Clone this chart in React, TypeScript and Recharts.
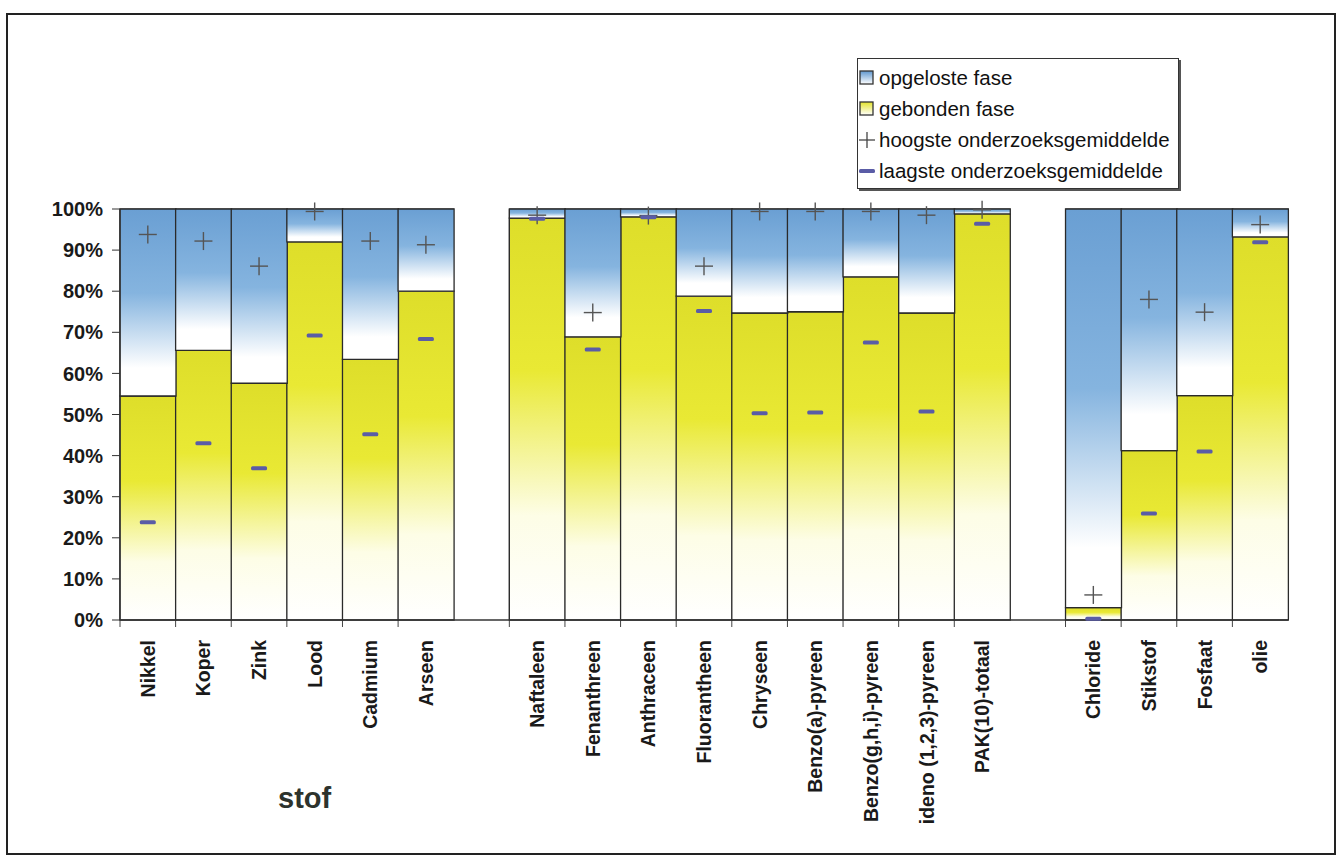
import type { FC } from 'react'
import { Bar, ComposedChart, Line, XAxis, YAxis } from 'recharts'

const FONT = 'Arial, "Liberation Sans", sans-serif'

// categories; the two blank names are the empty slots between the groups
const categories = [
  'Nikkel', 'Koper', 'Zink', 'Lood', 'Cadmium', 'Arseen', ' ',
  'Naftaleen', 'Fenanthreen', 'Anthraceen', 'Fluorantheen', 'Chryseen', 'Benzo(a)-pyreen',
  'Benzo(g,h,i)-pyreen', 'ideno (1,2,3)-pyreen', 'PAK(10)-totaal', '  ',
  'Chloride', 'Stikstof', 'Fosfaat', 'olie',
]
const gebonden = [54.5, 65.6, 57.6, 92.0, 63.4, 80.0, null, 97.8, 68.9, 98.1, 78.8, 74.7, 75.0, 83.5, 74.7, 98.8, null, 3.0, 41.2, 54.6, 93.2]
const opgeloste = [45.5, 34.4, 42.4, 8.0, 36.6, 20.0, null, 2.2, 31.1, 1.9, 21.2, 25.3, 25.0, 16.5, 25.3, 1.2, null, 97.0, 58.8, 45.4, 6.8]
const hoogste = [93.8, 92.2, 86.1, 99.4, 92.2, 91.3, null, 98.5, 74.8, 98.4, 86.1, 99.4, 99.4, 99.4, 98.5, 99.8, null, 6.1, 78.0, 74.9, 96.2]
const laagste = [23.8, 43.0, 36.9, 69.2, 45.2, 68.4, null, 97.6, 65.8, 98.0, 75.2, 50.3, 50.5, 67.5, 50.7, 96.4, null, 0.3, 25.9, 41.0, 91.9]
const yTicks = [0, 10, 20, 30, 40, 50, 60, 70, 80, 90, 100]
const legendNames = ['opgeloste fase', 'gebonden fase', 'hoogste onderzoeksgemiddelde', 'laagste onderzoeksgemiddelde']
const axisTitle = 'stof'

const data = categories.map((name, i) => ({
  name,
  gebonden: gebonden[i],
  opgeloste: opgeloste[i],
  hoogste: hoogste[i],
  laagste: laagste[i],
}))

// bar background: category boundary lines, top edge and the small ticks under the axis
const BoundaryShape: FC<any> = ({ x, y, width, height, index }) => {
  if (x == null || width == null) return null
  const bottom = y + height
  return (
    <g stroke="#444" strokeWidth={1} fill="none">
      <line x1={x} y1={y} x2={x + width} y2={y} />
      <line x1={x} y1={y} x2={x} y2={bottom + 7} />
      {index === categories.length - 1 && <line x1={x + width} y1={y} x2={x + width} y2={bottom + 7} />}
    </g>
  )
}

const PlusDot: FC<any> = ({ cx, cy }) => {
  if (cx == null || cy == null || Number.isNaN(cy)) return null
  return (
    <g stroke="#555" strokeWidth={1.4}>
      <line x1={cx - 9} y1={cy} x2={cx + 9} y2={cy} />
      <line x1={cx} y1={cy - 9} x2={cx} y2={cy + 9} />
    </g>
  )
}

const DashDot: FC<any> = ({ cx, cy }) => {
  if (cx == null || cy == null || Number.isNaN(cy)) return null
  return <rect x={cx - 8} y={cy - 2} width={16} height={4} rx={1.5} fill="#5a5ca6" />
}

const RotatedTick: FC<any> = ({ x, y, payload }) => (
  <g transform={`translate(${x},${y})`}>
    <text
      transform="rotate(-90)"
      x={-12}
      y={0}
      dy="0.36em"
      textAnchor="end"
      fontFamily={FONT}
      fontWeight="bold"
      fontSize={19.5}
      fill="#1a1a1a">
      {payload.value.trim()}
    </text>
  </g>
)

const LegendBox: FC = () => {
  const icon = (i: number) => {
    if (i === 0) return <rect x={1} y={2} width={13} height={13} fill="url(#legBlue)" stroke="#333" strokeWidth={1.3} />
    if (i === 1) return <rect x={1} y={2} width={13} height={13} fill="url(#legYellow)" stroke="#333" strokeWidth={1.3} />
    if (i === 2)
      return (
        <g stroke="#444" strokeWidth={1.3}>
          <line x1={0} y1={9} x2={16} y2={9} />
          <line x1={8} y1={1} x2={8} y2={17} />
        </g>
      )
    return <rect x={0} y={7} width={16} height={4} rx={1.5} fill="#5a5ca6" />
  }
  return (
    <div
      style={{
        position: 'absolute',
        left: 857,
        top: 58,
        width: 322,
        height: 131,
        border: '1.5px solid #333',
        boxShadow: '2px 2px 0 #555',
        background: '#fff',
        fontFamily: FONT,
        fontSize: 20.5,
        color: '#111',
        paddingTop: 3,
        boxSizing: 'border-box',
      }}>
      <svg width={0} height={0} style={{ position: 'absolute' }}>
        <defs>
          <linearGradient id="legBlue" x1="0" y1="0" x2="0" y2="1">
            <stop offset="0" stopColor="#5f97cf" />
            <stop offset="1" stopColor="#ffffff" />
          </linearGradient>
          <linearGradient id="legYellow" x1="0" y1="0" x2="0" y2="1">
            <stop offset="0" stopColor="#e4e42c" />
            <stop offset="1" stopColor="#ffffff" />
          </linearGradient>
        </defs>
      </svg>
      {legendNames.map((n, i) => (
        <div key={n} style={{ display: 'flex', alignItems: 'center', height: 31, paddingLeft: 1, whiteSpace: 'nowrap' }}>
          <svg width={18} height={18} style={{ marginRight: 2 }}>
            {icon(i)}
          </svg>
          <span>{n}</span>
        </div>
      ))}
    </div>
  )
}

const App: FC = () => (
  <div style={{ position: 'absolute', left: 0, top: 0, width: 1344, height: 861, background: '#fff', overflow: 'hidden' }}>
    <div
      style={{
        position: 'absolute',
        left: 6,
        top: 13,
        width: 1330,
        height: 842,
        border: '2px solid #222',
        boxSizing: 'border-box',
      }}
    />
    <div style={{ position: 'absolute', left: 0, top: 0 }}>
      <ComposedChart
        width={1344}
        height={861}
        data={data}
        barCategoryGap={0}
        barGap={0}
        margin={{ top: 209, right: 56, bottom: 100, left: 20 }}>
        <defs>
          <linearGradient id="blueGrad" x1="0" y1="0" x2="0" y2="1">
            <stop offset="0" stopColor="#6a9fd3" />
            <stop offset="0.45" stopColor="#85b4df" />
            <stop offset="0.85" stopColor="#ffffff" />
            <stop offset="1" stopColor="#ffffff" />
          </linearGradient>
          <linearGradient id="yellowGrad" x1="0" y1="0" x2="0" y2="1">
            <stop offset="0" stopColor="#dede2a" />
            <stop offset="0.38" stopColor="#e9e934" />
            <stop offset="0.74" stopColor="#fdfde6" />
            <stop offset="1" stopColor="#ffffff" />
          </linearGradient>
        </defs>
        <XAxis
          dataKey="name"
          interval={0}
          height={141}
          tickLine={false}
          axisLine={{ stroke: '#333', strokeWidth: 1.3 }}
          tick={<RotatedTick />}
        />
        <YAxis
          width={100}
          domain={[0, 100]}
          ticks={yTicks}
          interval={0}
          tickFormatter={(v: number) => `${v}%`}
          tickSize={8}
          tickMargin={9}
          axisLine={{ stroke: '#333', strokeWidth: 1.3 }}
          tickLine={{ stroke: '#333' }}
          tick={{ fontFamily: FONT, fontWeight: 'bold', fontSize: 20, fill: '#1a1a1a' }}
        />
        <Bar
          dataKey="gebonden"
          stackId="a"
          fill="url(#yellowGrad)"
          stroke="#2a2a2a"
          strokeWidth={1.3}
          background={<BoundaryShape />}
          isAnimationActive={false}
        />
        <Bar dataKey="opgeloste" stackId="a" fill="url(#blueGrad)" stroke="#2a2a2a" strokeWidth={1.3} isAnimationActive={false} />
        <Line dataKey="hoogste" stroke="none" dot={<PlusDot />} activeDot={false} isAnimationActive={false} />
        <Line dataKey="laagste" stroke="none" dot={<DashDot />} activeDot={false} isAnimationActive={false} />
      </ComposedChart>
    </div>
    <LegendBox />
    <div
      style={{
        position: 'absolute',
        left: 278,
        top: 782,
        fontFamily: FONT,
        fontWeight: 'bold',
        fontSize: 29,
        color: '#2d332d',
      }}>
      {axisTitle}
    </div>
  </div>
)

export default App
